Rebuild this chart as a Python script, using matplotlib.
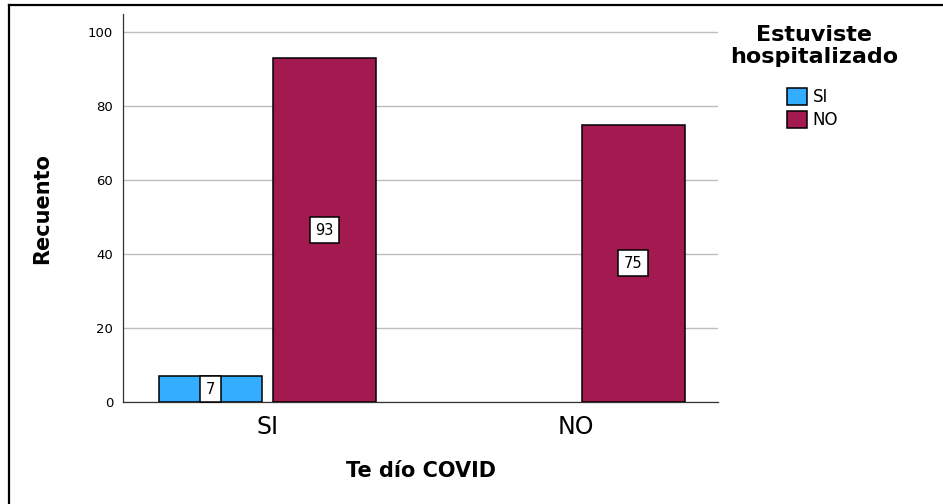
import numpy as np
import matplotlib
matplotlib.use("Agg")
import matplotlib.pyplot as plt
from matplotlib.patches import Patch
from matplotlib.lines import Line2D

categories = ["SI", "NO"]
series_names = ["SI", "NO"]
counts_si = [7, 0]
counts_no = [93, 75]
colors = ["#33adff", "#a21a4f"]
legend_title = "Estuviste\nhospitalizado"

W, H = 943, 504
fig = plt.figure(figsize=(W / 100, H / 100), dpi=100)
ax = fig.add_axes([123 / W, 1 - 402 / H, (718 - 123) / W, (402 - 14) / H])

x = np.arange(len(categories))
width = 0.334
offset = 0.185

bars_si = ax.bar(x - offset, counts_si, width, color=colors[0], edgecolor="black", linewidth=1.1, zorder=3)
bars_no = ax.bar(x + offset, counts_no, width, color=colors[1], edgecolor="black", linewidth=1.1, zorder=3)

# value labels in white boxes, skip empty bars
for bars in (bars_si, bars_no):
    for b in bars:
        h = b.get_height()
        if h <= 0:
            b.set_visible(False)
            continue
        ax.text(b.get_x() + b.get_width() / 2, h / 2, str(int(h)), ha="center", va="center",
                fontsize=10.5, zorder=5,
                bbox=dict(boxstyle="square,pad=0.38", facecolor="white", edgecolor="black", linewidth=1.1))

ax.set_xlim(-0.468, 1.46)
ax.set_ylim(0, 105)
ax.set_yticks([0, 20, 40, 60, 80, 100])
ax.yaxis.grid(True, color="#bdbdbd", linewidth=1.0, zorder=0)
ax.set_axisbelow(True)
for s in ("top", "right"):
    ax.spines[s].set_visible(False)
for s in ("left", "bottom"):
    ax.spines[s].set_color("#333333")
    ax.spines[s].set_linewidth(0.9)

ax.set_xticks(x)
ax.set_xticklabels(categories, fontsize=17)
ax.tick_params(axis="x", length=0, pad=9)
ax.tick_params(axis="y", length=0, pad=7, labelsize=9.5)

ax.set_xlabel("Te dío COVID", fontsize=15, fontweight="bold", va="center")
ax.xaxis.set_label_coords(0.5, -0.178)
ax.set_ylabel("Recuento", fontsize=15, fontweight="bold", va="center", ha="center")
ax.yaxis.set_label_coords(-0.136, 0.5)

# legend title as separate text, entries below
fig.text(814 / W, 1 - 25 / H, legend_title, ha="center", va="top", fontsize=16,
         fontweight="bold", linespacing=1.12, multialignment="center")
handles = [Patch(facecolor=c, edgecolor="black", linewidth=1.1) for c in colors]
fig.legend(handles, series_names, loc="upper left", bbox_to_anchor=(787 / W, 1 - 88 / H),
           frameon=False, fontsize=12, handlelength=1.2, handleheight=1.2, handletextpad=0.35,
           labelspacing=0.3, borderpad=0, borderaxespad=0)

# outer frame (left and top edges visible)
fig.add_artist(Line2D([9 / W, 9 / W], [0, 1 - 5 / H], color="black", linewidth=1.6, transform=fig.transFigure))
fig.add_artist(Line2D([9 / W, 1], [1 - 5 / H, 1 - 5 / H], color="black", linewidth=1.6, transform=fig.transFigure))

fig.savefig("out.png", dpi=100)
